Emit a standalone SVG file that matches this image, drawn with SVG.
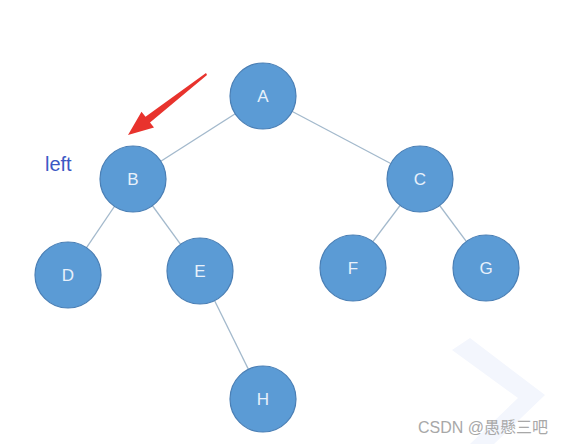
<svg xmlns="http://www.w3.org/2000/svg" width="577" height="444" viewBox="0 0 577 444">
<style>
.n circle{fill:#5b9bd5;stroke:#4a7fb5;stroke-width:1.2}
.n text{fill:#e8f1fb;font-family:"Liberation Sans",Arial,sans-serif;font-size:17px;text-anchor:middle;dominant-baseline:central}
.e line{stroke:#a3b9cc;stroke-width:1.3}
</style>
<rect width="577" height="444" fill="#fff"/>
<polygon points="470,338 545,395 494,444 470,444 518,398 452,350" fill="#f3f6fd"/>
<g id="edges" class="e">
<line x1="263" y1="96" x2="133" y2="179"/>
<line x1="263" y1="96" x2="420" y2="179"/>
<line x1="133" y1="179" x2="68" y2="275"/>
<line x1="133" y1="179" x2="200" y2="271"/>
<line x1="200" y1="271" x2="263" y2="399"/>
<line x1="420" y1="179" x2="353" y2="268"/>
<line x1="420" y1="179" x2="486" y2="268"/>
</g>
<g id="arrow"><polygon points="206,73 207,75 150,122.4 154,127.5 128,135 141.5,111.7 145.5,116.8" fill="#e8332d"/></g>
<g id="A" class="n"><circle cx="263" cy="96" r="33"/><text x="263" y="96">A</text></g>
<g id="B" class="n"><circle cx="133" cy="179" r="33"/><text x="133" y="179">B</text></g>
<g id="C" class="n"><circle cx="420" cy="179" r="33"/><text x="420" y="179">C</text></g>
<g id="D" class="n"><circle cx="68" cy="275" r="33"/><text x="68" y="275">D</text></g>
<g id="E" class="n"><circle cx="200" cy="271" r="33"/><text x="200" y="271">E</text></g>
<g id="F" class="n"><circle cx="353" cy="268" r="33"/><text x="353" y="268">F</text></g>
<g id="G" class="n"><circle cx="486" cy="268" r="33"/><text x="486" y="268">G</text></g>
<g id="H" class="n"><circle cx="263" cy="399" r="33"/><text x="263" y="399">H</text></g>
<text x="45" y="171" font-family="'Liberation Sans',Arial,sans-serif" font-size="20" fill="#3b58c4">left</text>
<text x="418" y="433" font-family="'Liberation Sans','Noto Sans CJK SC',sans-serif" font-size="16" fill="#a8a8a8">CSDN @愚懸三吧</text>
</svg>
